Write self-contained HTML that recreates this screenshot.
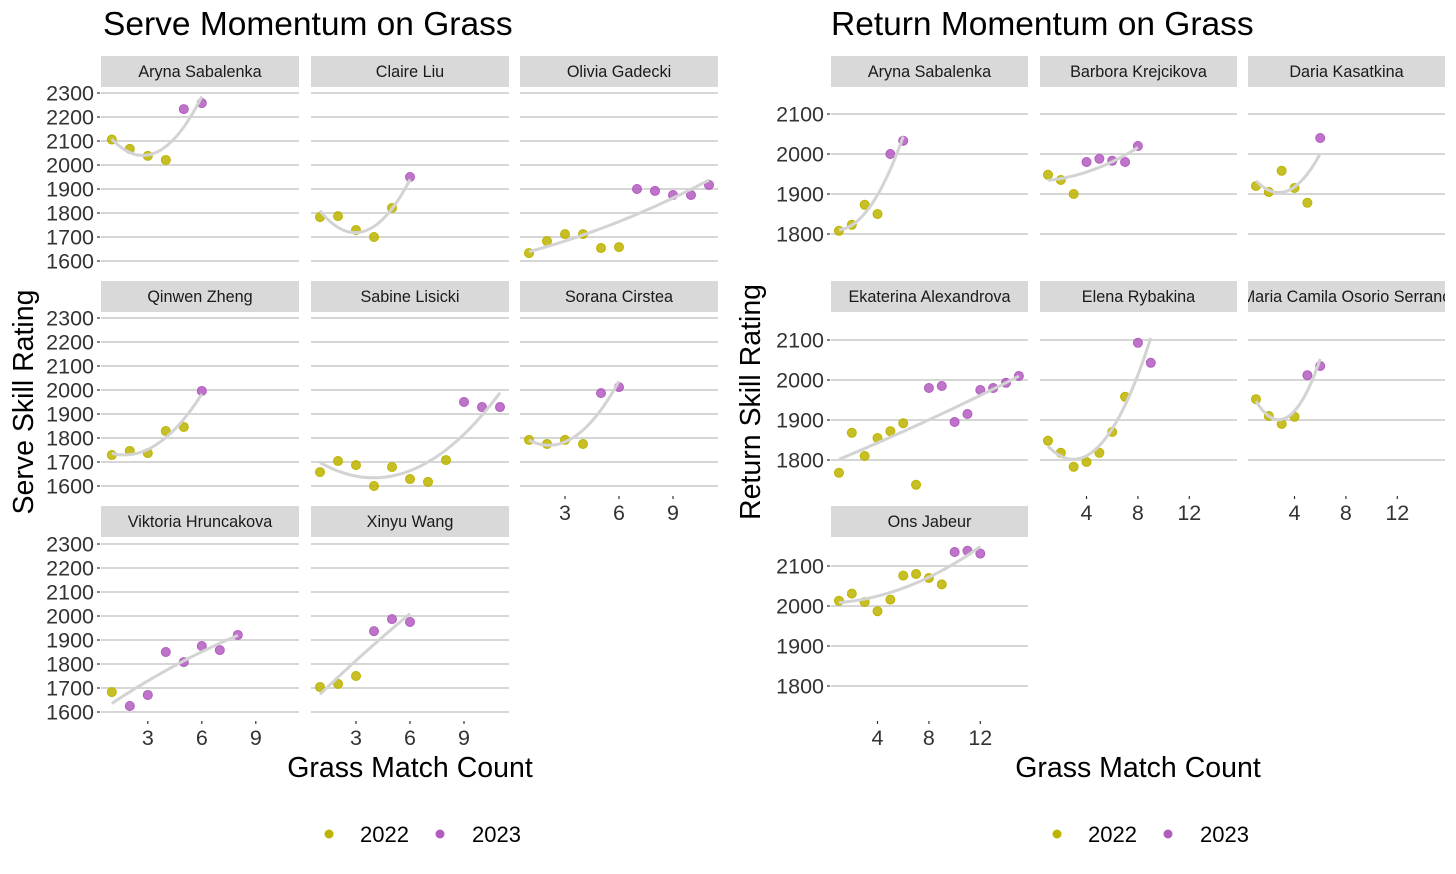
<!DOCTYPE html>
<html><head><meta charset="utf-8">
<style>
body{margin:0;background:#fff;width:1456px;height:874px;overflow:hidden;font-family:"Liberation Sans",sans-serif;}
svg{display:block}
</style></head>
<body>
<svg id="chart" width="1456" height="874" xmlns="http://www.w3.org/2000/svg"></svg>
<script>
// ---------- Serve data ----------
const serveSabalenkaX=[1,2,3,4,5,6];
const serveSabalenkaY=[2106,2067,2038,2021,2233,2258];
const serveSabalenkaYr=[2022,2022,2022,2022,2023,2023];
const serveLiuX=[1,2,3,4,5,6];
const serveLiuY=[1783,1787,1729,1700,1821,1950];
const serveLiuYr=[2022,2022,2022,2022,2022,2023];
const serveGadeckiX=[1,2,3,4,5,6,7,8,9,10,11];
const serveGadeckiY=[1633,1683,1712,1712,1654,1658,1900,1892,1875,1875,1917];
const serveGadeckiYr=[2022,2022,2022,2022,2022,2022,2023,2023,2023,2023,2023];
const serveZhengX=[1,2,3,4,5,6];
const serveZhengY=[1729,1746,1737,1829,1846,1996];
const serveZhengYr=[2022,2022,2022,2022,2022,2023];
const serveLisickiX=[1,2,3,4,5,6,7,8,9,10,11];
const serveLisickiY=[1658,1704,1687,1600,1679,1629,1617,1708,1950,1929,1929];
const serveLisickiYr=[2022,2022,2022,2022,2022,2022,2022,2022,2023,2023,2023];
const serveCirsteaX=[1,2,3,4,5,6];
const serveCirsteaY=[1792,1775,1792,1775,1987,2012];
const serveCirsteaYr=[2022,2022,2022,2022,2023,2023];
const serveHruncakovaX=[1,2,3,4,5,6,7,8];
const serveHruncakovaY=[1683,1625,1671,1850,1808,1875,1858,1921];
const serveHruncakovaYr=[2022,2023,2023,2023,2023,2023,2023,2023];
const serveWangX=[1,2,3,4,5,6];
const serveWangY=[1704,1717,1750,1937,1987,1975];
const serveWangYr=[2022,2022,2022,2023,2023,2023];
const serveTicksY=[1600,1700,1800,1900,2000,2100,2200,2300];
const serveTicksX=[3,6,9];
// ---------- Return data ----------
const retSabalenkaX=[1,2,3,4,5,6];
const retSabalenkaY=[1808,1823,1873,1850,2000,2033];
const retSabalenkaYr=[2022,2022,2022,2022,2023,2023];
const retKrejcikovaX=[1,2,3,4,5,6,7,8];
const retKrejcikovaY=[1948,1935,1900,1980,1988,1983,1980,2020];
const retKrejcikovaYr=[2022,2022,2022,2023,2023,2023,2023,2023];
const retKasatkinaX=[1,2,3,4,5,6];
const retKasatkinaY=[1920,1905,1958,1915,1878,2040];
const retKasatkinaYr=[2022,2022,2022,2022,2022,2023];
const retAlexandrovaX=[1,2,3,4,5,6,7,8,9,10,11,12,13,14,15];
const retAlexandrovaY=[1768,1868,1810,1855,1872,1892,1738,1980,1985,1895,1915,1975,1980,1993,2010];
const retAlexandrovaYr=[2022,2022,2022,2022,2022,2022,2022,2023,2023,2023,2023,2023,2023,2023,2023];
const retRybakinaX=[1,2,3,4,5,6,7,8,9];
const retRybakinaY=[1848,1818,1783,1795,1818,1870,1958,2093,2043];
const retRybakinaYr=[2022,2022,2022,2022,2022,2022,2022,2023,2023];
const retOsorioX=[1,2,3,4,5,6];
const retOsorioY=[1952,1910,1890,1908,2012,2035];
const retOsorioYr=[2022,2022,2022,2022,2023,2023];
const retJabeurX=[1,2,3,4,5,6,7,8,9,10,11,12];
const retJabeurY=[2013,2031,2010,1987,2016,2076,2080,2070,2054,2135,2138,2131];
const retJabeurYr=[2022,2022,2022,2022,2022,2022,2022,2022,2022,2023,2023,2023];
const retTicksY=[1800,1900,2000,2100];
const retTicksX=[4,8,12];

const NS="http://www.w3.org/2000/svg";
const svg=document.getElementById('chart');
function el(tag,attrs,parent,text){const e=document.createElementNS(NS,tag);for(const k in attrs)e.setAttribute(k,attrs[k]);if(text!==undefined)e.textContent=text;(parent||svg).appendChild(e);return e;}
const COL={2022:'#bdb400',2023:'#b25cbf'};

function fitQuad(xs,ys){
  let S=[0,0,0,0,0],T=[0,0,0];
  for(let i=0;i<xs.length;i++){let p=1;for(let k=0;k<5;k++){S[k]+=p;if(k<3)T[k]+=p*ys[i];p*=xs[i];}}
  const A=[[S[0],S[1],S[2],T[0]],[S[1],S[2],S[3],T[1]],[S[2],S[3],S[4],T[2]]];
  for(let i=0;i<3;i++){for(let j=i+1;j<3;j++){const f=A[j][i]/A[i][i];for(let k=i;k<4;k++)A[j][k]-=f*A[i][k];}}
  const c=[0,0,0];for(let i=2;i>=0;i--){let s=A[i][3];for(let k=i+1;k<3;k++)s-=A[i][k]*c[k];c[i]=s/A[i][i];}
  return x=>c[0]+c[1]*x+c[2]*x*x;
}
let clipId=0;
function panel(o){
  const g=el('g',{});
  
  
  const w=o.w,top=o.top,h=183;
  const strip=el('rect',{x:o.left,y:top-31,width:w,height:31,fill:'#d9d9d9'},g);
  
  
  const sid='sclip'+(clipId++);
  const scp=el('clipPath',{id:sid},g);el('rect',{x:o.left,y:top-31,width:w,height:31},scp);
  const st=el('text',{x:o.left+w/2,y:top-10,'text-anchor':'middle','font-size':16.2,fill:'#1a1a1a','clip-path':'url(#'+sid+')'},g,o.title);
  
  
  const sx=x=>o.left+(x-o.x0)*o.kx;
  const sy=v=>o.yRef+(o.vRef-v)*o.ky;
  o.ticksY.forEach(t=>{
    el('line',{x1:o.left,x2:o.left+w,y1:sy(t),y2:sy(t),stroke:'#d6d6d6','stroke-width':2},g);
    if(o.showY){
      el('line',{x1:o.left-4,x2:o.left-1,y1:sy(t),y2:sy(t),stroke:'#333','stroke-width':1.2},g);
      const tl=el('text',{x:o.left-7,y:sy(t)+7.5,'text-anchor':'end','font-size':21.5,fill:'#333'},g,t);
      
      
    }
  });
  if(o.showX){
    o.ticksX.forEach(t=>{
      el('line',{x1:sx(t),x2:sx(t),y1:top+h+1,y2:top+h+4,stroke:'#333','stroke-width':1.2},g);
      const tl=el('text',{x:sx(t),y:top+h+25,'text-anchor':'middle','font-size':21.5,fill:'#333'},g,t);
      
      
    });
  }
  const id='clip'+(clipId++);
  const cp=el('clipPath',{id:id},g);el('rect',{x:o.left,y:top,width:w,height:h},cp);
  o.xs.forEach((x,i)=>{
    const c=el('circle',{cx:sx(x),cy:sy(o.ys[i]),r:4.5,fill:COL[o.yr[i]],'fill-opacity':0.85,stroke:COL[o.yr[i]],'stroke-width':1},g);
    
    
  });
  const f=fitQuad(o.xs,o.ys);
  const xmin=Math.min(...o.xs),xmax=Math.max(...o.xs);
  let d='';for(let k=0;k<=60;k++){const x=xmin+(xmax-xmin)*k/60;d+=(k?'L':'M')+sx(x).toFixed(1)+','+sy(f(x)).toFixed(1);}
  const p=el('path',{d:d,fill:'none',stroke:'#d3d3d3','stroke-width':3,'clip-path':'url(#'+id+')'},g);
  
  
}
const sL=[101,311,520],sRowTop=[87,312,537],sRef=[93,318,544];
const serve=[
 ['aryna-sabalenka','Aryna Sabalenka',serveSabalenkaX,serveSabalenkaY,serveSabalenkaYr,0,0],
 ['claire-liu','Claire Liu',serveLiuX,serveLiuY,serveLiuYr,0,1],
 ['olivia-gadecki','Olivia Gadecki',serveGadeckiX,serveGadeckiY,serveGadeckiYr,0,2],
 ['qinwen-zheng','Qinwen Zheng',serveZhengX,serveZhengY,serveZhengYr,1,0],
 ['sabine-lisicki','Sabine Lisicki',serveLisickiX,serveLisickiY,serveLisickiYr,1,1],
 ['sorana-cirstea','Sorana Cirstea',serveCirsteaX,serveCirsteaY,serveCirsteaYr,1,2],
 ['viktoria-hruncakova','Viktoria Hruncakova',serveHruncakovaX,serveHruncakovaY,serveHruncakovaYr,2,0],
 ['xinyu-wang','Xinyu Wang',serveWangX,serveWangY,serveWangYr,2,1]];
serve.forEach(s=>{
  panel({name:'serve-'+s[0],title:s[1],xs:s[2],ys:s[3],yr:s[4],left:sL[s[6]],w:198,top:sRowTop[s[5]],
   x0:0.5-(sL[s[6]]===101?0.1:0),kx:18,vRef:2300,yRef:sRef[s[5]],ky:0.24,ticksY:serveTicksY,ticksX:serveTicksX,
   showY:s[6]===0,showX:(s[5]===2)||(s[5]===1&&s[6]===2)});
});
const rL=[831,1040,1248],rRef=[114,340,566];
const ret=[
 ['aryna-sabalenka','Aryna Sabalenka',retSabalenkaX,retSabalenkaY,retSabalenkaYr,0,0],
 ['barbora-krejcikova','Barbora Krejcikova',retKrejcikovaX,retKrejcikovaY,retKrejcikovaYr,0,1],
 ['daria-kasatkina','Daria Kasatkina',retKasatkinaX,retKasatkinaY,retKasatkinaYr,0,2],
 ['ekaterina-alexandrova','Ekaterina Alexandrova',retAlexandrovaX,retAlexandrovaY,retAlexandrovaYr,1,0],
 ['elena-rybakina','Elena Rybakina',retRybakinaX,retRybakinaY,retRybakinaYr,1,1],
 ['maria-camila-osorio-serrano','Maria Camila Osorio Serrano',retOsorioX,retOsorioY,retOsorioYr,1,2],
 ['ons-jabeur','Ons Jabeur',retJabeurX,retJabeurY,retJabeurYr,2,0]];
ret.forEach(s=>{
  panel({name:'return-'+s[0],title:s[1],xs:s[2],ys:s[3],yr:s[4],left:rL[s[6]],w:197,top:sRowTop[s[5]],
   x0:0.38,kx:12.85,vRef:2100,yRef:rRef[s[5]],ky:0.4,ticksY:retTicksY,ticksX:retTicksX,
   showY:s[6]===0,showX:(s[5]===2)||(s[5]===1&&s[6]>0)});
});
</script>
<svg style="position:absolute;left:0;top:0" width="1456" height="874">
<text x="103" y="35" font-size="33.5" fill="#000" font-family="Liberation Sans, sans-serif">Serve Momentum on Grass</text>
<text x="831" y="35" font-size="33.5" fill="#000" font-family="Liberation Sans, sans-serif">Return Momentum on Grass</text>
<text transform="translate(33,402) rotate(-90)" text-anchor="middle" font-size="28.5" font-family="Liberation Sans, sans-serif">Serve Skill Rating</text>
<text transform="translate(760,402) rotate(-90)" text-anchor="middle" font-size="28.5" font-family="Liberation Sans, sans-serif">Return Skill Rating</text>
<text x="410" y="777" text-anchor="middle" font-size="28.5" font-family="Liberation Sans, sans-serif">Grass Match Count</text>
<text x="1138" y="777" text-anchor="middle" font-size="28.5" font-family="Liberation Sans, sans-serif">Grass Match Count</text>
<g font-family="Liberation Sans, sans-serif" font-size="22">
<circle cx="329" cy="834" r="4.5" fill="#bdb400"/><text x="360" y="842">2022</text>
<circle cx="440" cy="834" r="4.5" fill="#b25cbf"/><text x="472" y="842">2023</text>
</g>
<g font-family="Liberation Sans, sans-serif" font-size="22">
<circle cx="1057" cy="834" r="4.5" fill="#bdb400"/><text x="1088" y="842">2022</text>
<circle cx="1168" cy="834" r="4.5" fill="#b25cbf"/><text x="1200" y="842">2023</text>
</g>
</svg>
</body></html>
